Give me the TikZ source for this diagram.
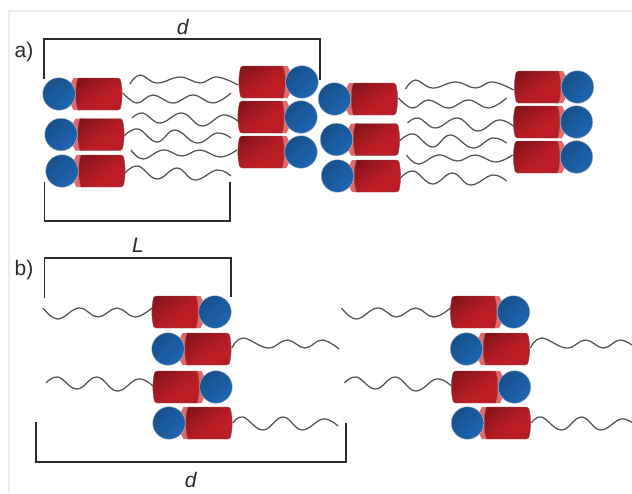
\documentclass[tikz,border=0pt]{standalone}
\usepackage{fontspec}
\setmainfont{Liberation Sans}
\definecolor{cyldark}{HTML}{660E13}
\definecolor{cylbright}{HTML}{C01E26}
\definecolor{cylline}{HTML}{8A5A5A}
\definecolor{band}{HTML}{E2696B}
\definecolor{headdark}{HTML}{17508C}
\definecolor{headbright}{HTML}{1E66B2}
\definecolor{frameline}{HTML}{ECECEC}
\definecolor{ink}{HTML}{2A2A2A}
\pgfdeclareverticalshading{cylshade}{100bp}{color(0bp)=(cylbright!85!black); color(35bp)=(cylbright); color(50bp)=(cylbright!85!cyldark); color(68bp)=(cylbright!55!cyldark); color(100bp)=(cyldark)}
\tikzset{
  x=1pt,y=-1pt,
  chain/.style={draw=black!68,line width=1.25pt,smooth,tension=.7,line join=round},
  bracket/.style={draw=ink,line width=1.7pt,line join=miter},
  lab/.style={font=\fontsize{21}{23}\selectfont,text=ink,inner sep=0pt},
  cylbody/.style={draw=cylline,line width=.4pt,shading=cylshade,shading angle=35},
}
% head at origin; cylinder towards negative x; mirrored with #3=-1
\newcommand{\molecule}[3]{%
  \begin{scope}[shift={(#1,#2)},xscale=#3]
    \fill[band] (-22,-16) -- (-14.5,-16) .. controls (-9,-8) and (-9,8) .. (-14.5,16) -- (-22,16) -- cycle;
    \shade[cylbody] (-59,-16) -- (-19,-16) .. controls (-16,-8) and (-16,8) .. (-19,16) -- (-59,16)
      .. controls (-61,16) and (-62,14) .. (-62,12) .. controls (-63.5,4) and (-63.5,-4) .. (-62,-12)
      .. controls (-62,-14) and (-61,-16) .. (-59,-16) -- cycle;
    \shade[draw=black!25,line width=.4pt,shading=axis,bottom color=headbright,top color=headdark,shading angle=45] (0,0) circle[radius=16.3];
  \end{scope}%
}
\newcommand{\layerA}{%
  \draw[chain] plot coordinates {(130,84)(140,75)(157,83)(180,77)(200,83)(217,77)(238,85)};
  \draw[chain] plot coordinates {(123,93)(137,103)(153,95)(173,103)(193,95)(213,103)(231,93)};
  \draw[chain] plot coordinates {(132,118)(143,113)(160,123)(182,113)(202,126)(223,115)(239,122)};
  \draw[chain] plot coordinates {(124,136)(138,129)(157,142)(175,130)(197,143)(217,133)(231,138)};
  \draw[chain] plot coordinates {(131,150)(143,159)(163,150)(182,156)(200,150)(220,157)(237,150)};
  \draw[chain] plot coordinates {(125,173)(138,166)(157,179)(177,168)(195,180)(217,170)(231,176)};
  \molecule{59}{94}{-1}
  \molecule{61}{134.5}{-1}
  \molecule{62}{171}{-1}
  \molecule{302}{82}{1}
  \molecule{301}{117}{1}
  \molecule{301}{152}{1}
}
\newcommand{\layerB}{%
  \draw[chain] plot coordinates {(43,308)(58,319)(79,308)(98,317)(117,308)(135,317)(152,308)};
  \draw[chain] plot coordinates {(232,348)(243,338)(268,348)(287,340)(305,348)(322,340)(339,349)};
  \draw[chain] plot coordinates {(46,383)(58,377)(77,389)(97,377)(117,391)(138,379)(153,386)};
  \draw[chain] plot coordinates {(233,423)(243,417)(263,430)(283,417)(302,430)(323,419)(338,426)};
  \molecule{215}{312}{1}
  \molecule{168}{349}{-1}
  \molecule{216}{387}{1}
  \molecule{169}{423}{-1}
}
\begin{document}
\begin{tikzpicture}
  \useasboundingbox (0,0) rectangle (632,493);
  \clip (0,0) rectangle (632,493);
  \draw[frameline,line width=2.5pt] (9,493) -- (9,11) -- (632,11);
  \layerA
  \begin{scope}[shift={(275.5,5)}]\layerA\end{scope}
  \layerB
  \begin{scope}[shift={(298.5,0)}]\layerB\end{scope}
  \draw[bracket] (44,79) -- (44,39) -- (320,39) -- (320,80);
  \draw[bracket] (44.5,182) -- (44.5,221) -- (230,221) -- (230,182);
  \draw[bracket] (44.5,298) -- (44.5,258) -- (231,258) -- (231,297);
  \draw[bracket] (36,422) -- (36,462) -- (346,462) -- (346,423);
  \node[lab] (da) at (183,27) {\textit{d}};
  \node[lab] (labela) at (24,52) {a)};
  \node[lab] (ll) at (138,245) {\textit{L}};
  \node[lab] (labelb) at (24,270) {b)};
  \node[lab] (db) at (191,480) {\textit{d}};
\end{tikzpicture}
\end{document}
